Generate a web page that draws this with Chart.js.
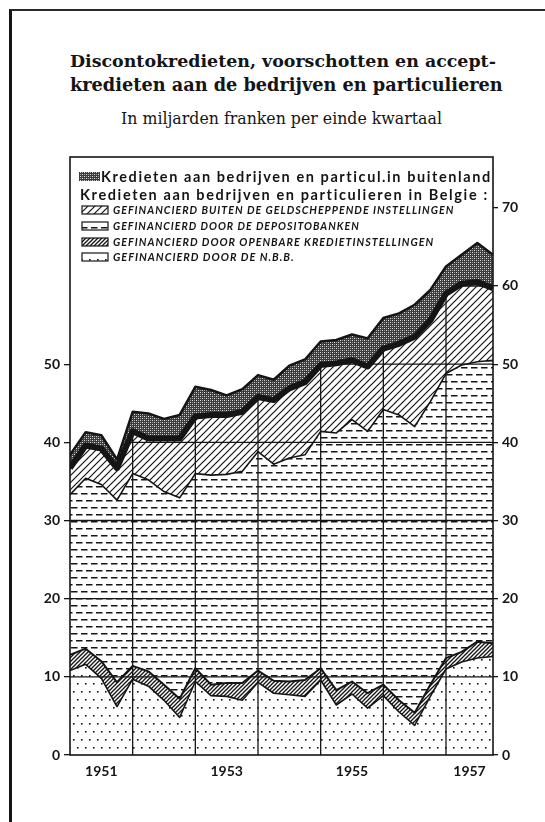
<!DOCTYPE html>
<html>
<head>
<meta charset="utf-8">
<title>Discontokredieten, voorschotten en acceptkredieten</title>
<script src="https://cdn.jsdelivr.net/npm/chart.js"></script>
<style>
  html, body { margin: 0; padding: 0; background: #fff; }
  body { width: 545px; height: 822px; position: relative; overflow: hidden; }
  .kader {
    position: absolute; left: 9px; top: 9px; width: 600px; height: 900px;
    border-left: 3px solid #151515; border-top: 2px solid #2a2a2a;
  }
  #chart { position: absolute; left: 0; top: 0; }
  .kop {
    position: absolute; left: 70px; width: 423px; text-align: center;
    white-space: nowrap; color: #151515;
  }
  .kop span { display: inline-block; }
  #t1, #t2 { font-family: 'DejaVu Serif', serif; font-weight: bold; font-size: 17px; line-height: 22px; }
  #t1 { top: 50px; }
  #t2 { top: 74px; }
  #sub { top: 110px; font-family: 'DejaVu Serif', serif; font-size: 13px; line-height: 18px; }
</style>
</head>
<body>
<div class="kader"></div>
<div class="kop" id="t1"><span>Discontokredieten, voorschotten en accept-</span></div>
<div class="kop" id="t2"><span>kredieten aan de bedrijven en particulieren</span></div>
<div class="kop" id="sub"><span>In miljarden franken per einde kwartaal</span></div>
<canvas id="chart" width="545" height="822"></canvas>

<script>
  // kwartalen (stand per einde kwartaal)
  const quarters = [
    '1950-IV',
    '1951-I', '1951-II', '1951-III', '1951-IV',
    '1952-I', '1952-II', '1952-III', '1952-IV',
    '1953-I', '1953-II', '1953-III', '1953-IV',
    '1954-I', '1954-II', '1954-III', '1954-IV',
    '1955-I', '1955-II', '1955-III', '1955-IV',
    '1956-I', '1956-II', '1956-III', '1956-IV',
    '1957-I', '1957-II', '1957-III'
  ];
  const yearLabels = ['1951', '1953', '1955', '1957'];
  const yTicksLeft = [0, 10, 20, 30, 40, 50];
  const yTicksRight = [0, 10, 20, 30, 40, 50, 60, 70];

  // miljarden frank, van onder naar boven gestapeld
  const nbb = [10.8, 11.6, 9.8, 6.2, 9.7, 8.8, 7.0, 4.8, 9.4, 7.6, 7.5, 7.0, 9.3, 7.9, 7.7, 7.5, 9.6, 6.4, 7.8, 6.0, 7.6, 5.5, 3.8, 7.5, 11.0, 11.9, 12.4, 12.6];
  const openbare = [2.0, 2.0, 2.2, 3.1, 1.7, 1.9, 2.0, 2.4, 1.7, 1.4, 1.7, 2.2, 1.5, 1.6, 1.7, 2.1, 1.5, 1.9, 1.6, 1.9, 1.4, 1.5, 1.6, 1.5, 1.4, 1.3, 2.1, 1.7];
  const depositobanken = [20.5, 21.8, 22.6, 23.3, 24.6, 24.5, 24.7, 25.7, 24.9, 26.8, 26.7, 27.1, 28.0, 27.7, 28.6, 28.8, 30.3, 32.9, 33.5, 33.5, 35.2, 36.5, 36.6, 36.2, 36.4, 36.7, 35.8, 36.2];
  const buitenGeldscheppend = [3.4, 4.2, 4.6, 4.1, 5.4, 5.3, 6.8, 7.6, 7.3, 7.7, 7.6, 7.6, 7.0, 8.2, 8.9, 9.3, 8.5, 8.9, 7.6, 8.3, 7.8, 9.1, 11.5, 10.4, 10.2, 10.4, 10.2, 9.2];
  const buitenland = [1.7, 1.7, 1.7, 1.1, 2.5, 3.2, 2.5, 3.0, 3.8, 3.2, 2.5, 2.9, 2.8, 2.6, 2.9, 2.9, 3.0, 3.0, 3.3, 3.6, 3.9, 3.9, 4.1, 3.9, 3.5, 3.7, 5.0, 4.3];

  // titel passend maken
  function fitWidth(id, w) {
    const el = document.querySelector('#' + id + ' span');
    const fs = parseFloat(getComputedStyle(el.parentNode).fontSize);
    el.parentNode.style.fontSize = (fs * w / el.getBoundingClientRect().width) + 'px';
  }
  fitWidth('t1', 426);
  fitWidth('t2', 433);
  fitWidth('sub', 321);

  // arceringen
  function pattern(w, h, paint) {
    const c = document.createElement('canvas');
    c.width = w; c.height = h;
    const g = c.getContext('2d');
    g.fillStyle = '#fff';
    g.fillRect(0, 0, w, h);
    g.fillStyle = '#151515';
    g.strokeStyle = '#151515';
    paint(g, w, h);
    return g.createPattern(c, 'repeat');
  }
  function slashes(g, w, h, lw) {
    g.lineWidth = lw;
    for (const o of [-w, 0, w]) {
      g.beginPath();
      g.moveTo(o - 1, h + 1);
      g.lineTo(o + w + 1, -1);
      g.stroke();
    }
  }
  const patDots = pattern(8, 16, g => { g.fillRect(1, 3, 1.6, 1.6); g.fillRect(5, 11, 1.6, 1.6); });
  const patDense = pattern(4, 4, (g, w, h) => slashes(g, w, h, 1.3));
  const patDash = pattern(10, 14, g => {
    g.fillRect(1, 3, 6.5, 1.5);
    g.fillRect(6, 10, 4, 1.5);
    g.fillRect(0, 10, 2.5, 1.5);
  });
  const patHatch = pattern(7, 7, (g, w, h) => slashes(g, w, h, 1.2));
  const patStipple = pattern(4, 4, g => {
    g.fillStyle = '#3c3c3c'; g.fillRect(0, 0, 4, 4);
    g.fillStyle = '#e0e0e0'; g.fillRect(0, 0, 1, 1); g.fillRect(2, 2, 1, 1);
    g.fillStyle = '#9a9a9a'; g.fillRect(2, 0, 1, 1); g.fillRect(0, 2, 1, 1);
  });

  const pts = arr => arr.map((v, i) => ({ x: i, y: v }));
  const yearOf = q => q.slice(0, 4);
  const yearEnds = quarters.map((q, i) => q.endsWith('-IV') && i > 0 ? i : null).filter(v => v !== null);
  const yearCenters = yearLabels.map(y => {
    const idx = quarters.map((q, i) => yearOf(q) === y ? i : null).filter(v => v !== null);
    return (idx[0] - 1 + idx[idx.length - 1]) / 2;
  });

  const datasets = [
    { label: 'GEFINANCIERD DOOR DE N.B.B.', data: pts(nbb), backgroundColor: patDots, borderWidth: 1.6, fill: 'origin' },
    { label: 'GEFINANCIERD DOOR OPENBARE KREDIETINSTELLINGEN', data: pts(openbare), backgroundColor: patDense, borderWidth: 2, fill: '-1' },
    { label: 'GEFINANCIERD DOOR DE DEPOSITOBANKEN', data: pts(depositobanken), backgroundColor: patDash, borderWidth: 1.6, fill: '-1' },
    { label: 'GEFINANCIERD BUITEN DE GELDSCHEPPENDE INSTELLINGEN', data: pts(buitenGeldscheppend), backgroundColor: patHatch, borderWidth: 6, fill: '-1' },
    { label: 'Kredieten aan bedrijven en particul.in buitenland', data: pts(buitenland), backgroundColor: patStipple, borderWidth: 2.5, fill: '-1' }
  ].map(d => Object.assign(d, { borderColor: '#151515', pointRadius: 0, tension: 0, borderJoinStyle: 'round' }));

  // raster alleen onder de curve van het totaal voor Belgie
  const gridUnderCurve = {
    id: 'gridUnderCurve',
    afterDatasetsDraw(chart) {
      const g = chart.ctx, a = chart.chartArea;
      const p = chart.getDatasetMeta(3).data;
      g.save();
      g.beginPath();
      g.moveTo(p[0].x, a.bottom);
      p.forEach(e => g.lineTo(e.x, e.y));
      g.lineTo(p[p.length - 1].x, a.bottom);
      g.closePath();
      g.clip();
      g.strokeStyle = '#151515';
      g.lineWidth = 1.3;
      const ys = chart.scales.y, xs = chart.scales.x;
      yTicksRight.slice(1).forEach(v => {
        const y = ys.getPixelForValue(v);
        g.beginPath(); g.moveTo(a.left, y); g.lineTo(a.right, y); g.stroke();
      });
      yearEnds.forEach(k => {
        const x = xs.getPixelForValue(k);
        g.beginPath(); g.moveTo(x, a.top); g.lineTo(x, a.bottom); g.stroke();
      });
      g.restore();
      g.save();
      g.strokeStyle = '#151515';
      g.lineWidth = 1.6;
      g.strokeRect(a.left, a.top, a.right - a.left, a.bottom - a.top);
      g.restore();
    }
  };

  function fitFont(g, txt, w, style, family) {
    g.font = style + ' 10px ' + family;
    g.font = style + ' ' + (10 * w / g.measureText(txt).width) + 'px ' + family;
  }
  function spaceFit(g, txt, w, font) {
    g.letterSpacing = '0px';
    g.font = font;
    g.letterSpacing = ((w - g.measureText(txt).width) / txt.length) + 'px';
  }

  const legendInBox = {
    id: 'legendInBox',
    afterDraw(chart) {
      const g = chart.ctx;
      const ds = chart.data.datasets;
      g.save();
      g.textBaseline = 'middle';
      g.fillStyle = '#151515';
      g.strokeStyle = '#151515';
      g.lineWidth = 1.2;
      // buitenland
      g.fillStyle = ds[4].backgroundColor;
      g.fillRect(79, 172, 21, 9);
      g.fillStyle = '#151515';
      spaceFit(g, ds[4].label, 391, 'bold 14.5px Lato, sans-serif');
      g.fillText(ds[4].label, 101, 177);
      const kop = 'Kredieten aan bedrijven en particulieren in Belgie :';
      spaceFit(g, kop, 409, 'bold 14.5px Lato, sans-serif');
      g.fillText(kop, 80, 195);
      // de vier Belgische bronnen
      const rows = [3, 2, 1, 0];
      const widths = [345, 249, 325, 184];
      const ys = [210, 226, 242, 257];
      rows.forEach((di, r) => {
        g.fillStyle = ds[di].backgroundColor;
        g.fillRect(82, ys[r] - 4, 26, 8);
        g.strokeRect(82, ys[r] - 4, 26, 8);
        g.fillStyle = '#151515';
        g.letterSpacing = '1px';
        fitFont(g, ds[di].label, widths[r], 'italic bold', 'Lato, sans-serif');
        g.fillText(ds[di].label, 113, ys[r] + 0.5);
      });
      g.restore();
    }
  };

  const tickFont = { family: 'Lato, sans-serif', size: 14, weight: 'bold' };

  new Chart(document.getElementById('chart').getContext('2d'), {
    type: 'line',
    data: { datasets: datasets },
    options: {
      responsive: false,
      animation: false,
      events: [],
      layout: { padding: { left: 0, right: 0, top: 157, bottom: 37 } },
      plugins: { legend: { display: false }, tooltip: { enabled: false }, title: { display: false } },
      scales: {
        x: {
          type: 'linear', min: 0, max: quarters.length - 1,
          grid: { display: false, drawTicks: false }, border: { display: false },
          afterBuildTicks: s => { s.ticks = yearCenters.map(v => ({ value: v })); },
          afterFit: s => { s.height = 30; },
          ticks: { autoSkip: false, maxRotation: 0, padding: 8, color: '#151515', font: tickFont,
            callback: (v, i) => yearLabels[i] }
        },
        y: {
          position: 'left', stacked: true, min: 0, max: 76.5,
          afterBuildTicks: s => { s.ticks = yTicksLeft.map(v => ({ value: v })); },
          afterFit: s => { s.width = 70; },
          grid: { drawOnChartArea: false, tickLength: 6, color: '#151515', lineWidth: 1.3 },
          border: { display: false },
          ticks: { padding: 4, color: '#151515', font: tickFont }
        },
        y2: {
          position: 'right', min: 0, max: 76.5,
          afterBuildTicks: s => { s.ticks = yTicksRight.map(v => ({ value: v })); },
          afterFit: s => { s.width = 52; },
          grid: { drawOnChartArea: false, tickLength: 5, color: '#151515', lineWidth: 1.3 },
          border: { display: false },
          ticks: { padding: 4, color: '#151515', font: tickFont }
        }
      }
    },
    plugins: [gridUnderCurve, legendInBox]
  });
</script>
</body>
</html>
